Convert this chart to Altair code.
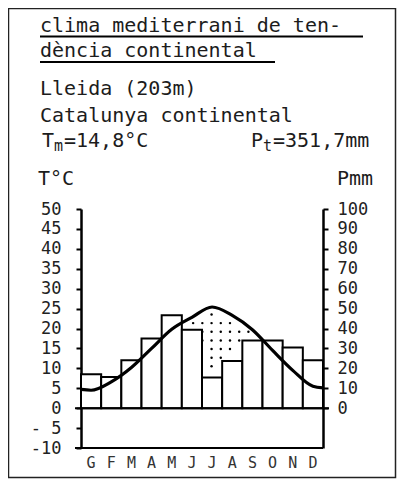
import altair as alt
import pandas as pd
import numpy as np

# ---- data ----
months = ["G", "F", "M", "A", "M", "J", "J", "A", "S", "O", "N", "D"]
precip = [17.0, 15.7, 24.0, 35.0, 46.6, 39.4, 15.4, 23.7, 34.0, 34.0, 30.4, 24.0]   # mm
temp = [4.5, 6.6, 10.2, 15.0, 19.8, 22.8, 25.4, 23.3, 19.7, 14.5, 9.5, 5.5]        # °C
temp_edges = [4.7, 5.1]   # curve value read at the left and right axis
t_ticks = [50, 45, 40, 35, 30, 25, 20, 15, 10, 5, 0, -5, -10]
p_ticks = [100, 90, 80, 70, 60, 50, 40, 30, 20, 10, 0]

FONT = "DejaVu Sans Mono"
W, H = 242, 239

bars = pd.DataFrame({
    "m": months,
    "x0": list(range(12)),
    "x1": [i + 1 for i in range(12)],
    "P": precip,
})
line_x = [0.0] + [i + 0.5 for i in range(12)] + [12.0]
line_t = [temp_edges[0]] + temp + [temp_edges[1]]
line = pd.DataFrame({"x": line_x, "T": line_t})
mlabels = pd.DataFrame({"x": [i + 0.5 for i in range(12)], "m": months})

# dotted dry period: between the temperature curve and precipitation line (P/2)
centers = [i + 0.5 for i in range(12)]
dots = []
for xc in 5.56 + 0.457 * np.arange(7):
    top = np.interp(xc, line_x, line_t) - 1.0
    low = np.interp(xc, centers, np.array(precip) / 2.0) + 2.0
    for yr in 10.5 + 2.17 * np.arange(7):
        if low < yr < top:
            dots.append({"x": float(xc), "T": float(yr)})
dots = pd.DataFrame(dots)


def xs():
    return alt.Scale(domain=[0, 12], nice=False, zero=False)


def ts():
    return alt.Scale(domain=[-10, 50], nice=False, zero=False)


pscale = alt.Scale(domain=[-20, 100], nice=False, zero=False)

left_axis = alt.Axis(
    orient="left", values=t_ticks, title=None, grid=False,
    labelExpr="datum.value == -5 ? '- 5' : (datum.value == -10 ? '-10' : datum.label)",
    labelFont=FONT, labelFontSize=17, labelColor="#222", labelPadding=15,
    tickSize=5, tickWidth=2, tickColor="black", domainColor="black", domainWidth=2.5,
)
right_axis = alt.Axis(
    orient="right", values=p_ticks, title=None, grid=False,
    labelFont=FONT, labelFontSize=17, labelColor="#222", labelPadding=9,
    tickSize=5, tickWidth=2, tickColor="black", domainColor="black", domainWidth=2.5,
)

p_bars = alt.Chart(bars).mark_rect(fill="white", stroke="black", strokeWidth=2).encode(
    x=alt.X("x0:Q", scale=xs(), axis=None),
    x2="x1:Q",
    y=alt.Y("P:Q", scale=pscale, axis=right_axis),
    y2=alt.datum(0),
)

t_line = alt.Chart(line).mark_line(stroke="black", strokeWidth=3.2, interpolate="monotone").encode(
    x=alt.X("x:Q", scale=xs(), axis=None),
    y=alt.Y("T:Q", scale=ts(), axis=left_axis),
)
t_dots = alt.Chart(dots).mark_circle(size=6, color="black", opacity=1).encode(
    x=alt.X("x:Q", scale=xs(), axis=None),
    y=alt.Y("T:Q", scale=ts(), axis=None),
)

one = pd.DataFrame({"_": [0]})
zero_rule = alt.Chart(one).mark_rule(stroke="black", strokeWidth=2).encode(
    y=alt.YDatum(0, scale=ts(), axis=None), x=alt.value(-6), x2=alt.value(W + 6)
)
bottom_rule = alt.Chart(one).mark_rule(stroke="black", strokeWidth=2).encode(
    y=alt.YDatum(-10, scale=ts(), axis=None), x=alt.value(-6), x2=alt.value(W)
)
month_text = alt.Chart(mlabels).mark_text(
    font=FONT, fontSize=15, color="#333", align="center", baseline="alphabetic"
).encode(x=alt.X("x:Q", scale=xs(), axis=None), y=alt.value(259), text="m:N")


def txt(s, x, y, size=20, color="#1c1c1c"):
    return alt.Chart(one).mark_text(
        text=s, font=FONT, fontSize=size, color=color, align="left", baseline="alphabetic"
    ).encode(x=alt.value(x), y=alt.value(y))


def hline(x1, x2, y, w=2):
    return alt.Chart(one).mark_rule(stroke="black", strokeWidth=w).encode(
        x=alt.value(x1), x2=alt.value(x2), y=alt.value(y)
    )


frame = alt.Chart(one).mark_rect(fillOpacity=0, stroke="#222", strokeWidth=1.5).encode(
    x=alt.value(-72.5), x2=alt.value(314.5), y=alt.value(-200.5), y2=alt.value(268.5)
)

annot = [
    frame,
    txt("clima mediterrani de ten-", -41, -177),
    hline(-41, 282, -172.5),
    txt("dència continental", -41, -152),
    hline(-41, 194, -147),
    txt("Lleida (203m)", -41, -114),
    txt("Catalunya continental", -41, -87),
    txt("T", -39, -62),
    txt("m", -27, -58, size=15),
    txt("=14,8°C", -17, -62),
    txt("P", 170, -62),
    txt("t", 182, -58, size=15),
    txt("=351,7mm", 192, -62),
    txt("T°C", -43, -24),
    txt("Pmm", 256, -24),
]

chart = (
    alt.layer(p_bars, t_dots, zero_rule, bottom_rule, t_line, month_text, *annot)
    .resolve_scale(y="independent")
    .properties(
        width=W, height=H,
        background="white",
        autosize=alt.AutoSizeParams(type="none"),
        padding={"left": 73, "top": 201, "right": 74, "bottom": 31},
    )
    .configure_view(stroke="transparent", strokeWidth=0)
)

chart.save("out.html", embed_options={"renderer": "svg", "actions": False})
